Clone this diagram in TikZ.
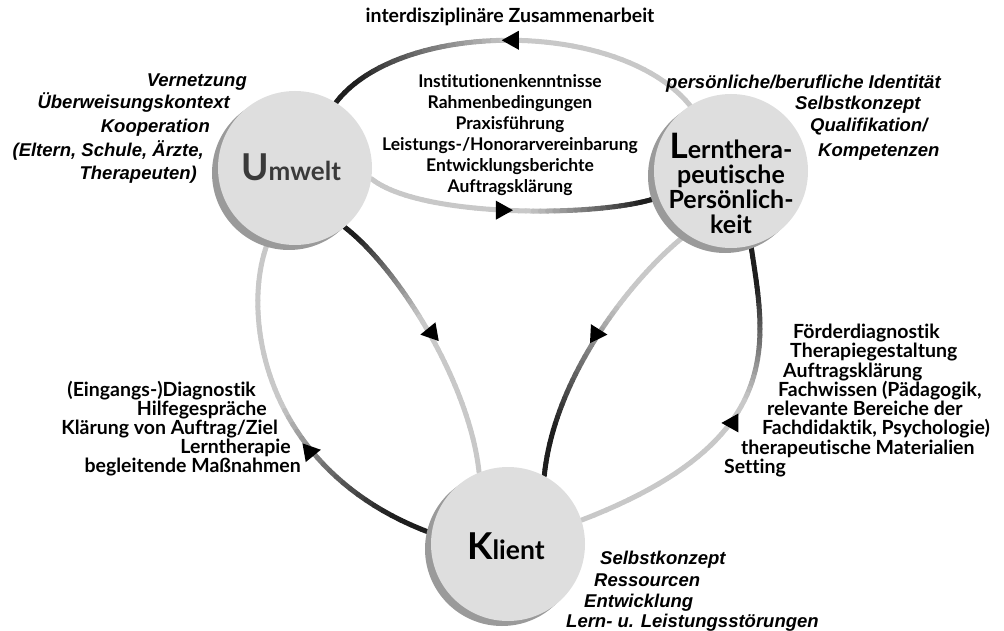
\documentclass[tikz,border=0pt]{standalone}
\usepackage{fontspec}
\setmainfont{Lato}[Ligatures=NoCommon]
\newfontfamily\itfont{Liberation Sans}
\usetikzlibrary{shadows,backgrounds,calc}

\definecolor{arcdark}{HTML}{1E1E1E}
\definecolor{arclight}{HTML}{C8C8C8}
\definecolor{circfill}{HTML}{DEDEDE}
\definecolor{circshadow}{HTML}{9A9A9A}
\definecolor{umtext}{HTML}{3A3A3A}

\tikzset{
  bubble/.style={circle, minimum size=154pt, inner sep=0pt, fill=circfill,
    drop shadow={shadow xshift=-6pt, shadow yshift=-5pt, fill=circshadow, opacity=1}},
  arcseg/.style={line width=5pt, line cap=round},
  up/.style={font=\bfseries\fontsize{19.5}{20}\selectfont, inner sep=0pt},
  itl/.style={font=\itfont\bfseries\itshape\fontsize{18.5}{22}\selectfont, inner sep=0pt},
  bubbletext/.style={inner sep=0pt, align=center},
}

% gradient connector: #1 name, #2 path, #3 dark at start (1) or end (0), #4 fade start, #5 fade end
\newcommand\gradarc[5]{%
  \path #2 \foreach \gk [evaluate=\gk as \gp using \gk/48] in {0,...,48} { coordinate[pos=\gp] (#1-\gk) };
  \foreach \gk in {0,...,47}{%
    \pgfmathtruncatemacro\gn{\gk+1}%
    \pgfmathsetmacro\gs{ifthenelse(#3==1,(\gk+0.5)/48,1-(\gk+0.5)/48)}%
    \pgfmathtruncatemacro\gc{max(0,min(100,100*(#5-\gs)/(#5-#4)))}%
    \draw[arcseg, color=arcdark!\gc!arclight] (#1-\gk) -- (#1-\gn);
  }%
}
% arrowhead centred on a point of a connector
\newcommand\arrowat[2]{\fill[black, shift={(#1)}, rotate=#2] (9,0) -- (-8,-9.5) -- (-8,9.5) -- cycle;}

\begin{document}
\begin{tikzpicture}[x=1pt,y=-1pt]
\useasboundingbox (0,0) rectangle (1004,631);

% circles
\node[bubble] (U) at (295,168) {};
\node[bubble] (L) at (731,171) {};
\node[bubble] (K) at (508,544) {};

\node[bubbletext, text=umtext, font=\bfseries\fontsize{26}{26}\selectfont] (Ut) at (291,167)
  {{\fontsize{37}{37}\selectfont U}mwelt};
\node[bubbletext, font=\bfseries\fontsize{25}{25}\selectfont] (Lt) at (731,183)
  {{\fontsize{35}{35}\selectfont L}ernthera-\\peutische\\Persönlich-\\keit};
\node[bubbletext, font=\bfseries\fontsize{26.5}{26}\selectfont] (Kt) at (506,546)
  {{\fontsize{37}{37}\selectfont K}lient};

% connectors
\begin{scope}[on background layer]
\gradarc{a1}{(U.58) .. controls (400,19) and (620,19) .. (L.122)}{1}{0.10}{0.50}
\gradarc{a2}{(U.-8) .. controls (420,218) and (600,218) .. (L.200)}{0}{0.08}{0.45}
\gradarc{a3}{(U.-50) .. controls (400,270) and (470,385) .. (K.112)}{1}{0.08}{0.45}
\gradarc{a4}{(U.250) .. controls (240,310) and (260,470) .. (K.172)}{0}{0.08}{0.45}
\gradarc{a5}{(L.-75) .. controls (765,340) and (790,440) .. (K.18)}{1}{0.15}{0.55}
\gradarc{a6}{(L.235) .. controls (640,270) and (555,370) .. (K.62)}{0}{0.15}{0.60}
\end{scope}

% arrowheads
\arrowat{a1-24}{180}
\arrowat{a2-23}{0}
\arrowat{a3-24}{190}
\arrowat{a4-33}{10}
\arrowat{a5-30}{180}
\arrowat{a6-25}{-3}

% texts
\node[up, anchor=base] (title) at (510,23) {interdisziplinäre Zusammenarbeit};
\node[up, align=center, anchor=north, font=\bfseries\fontsize{17.5}{21}\selectfont] (mid) at (510,74)
  {Institutionenkenntnisse\\Rahmenbedingungen\\Praxisführung\\Leistungs-/Honorarvereinbarung\\Entwicklungsberichte\\Auftragsklärung};

\node[itl, anchor=base east] (u1) at (247,87) {Vernetzung};
\node[itl, anchor=base east] (u2) at (230,109) {Überweisungskontext};
\node[itl, anchor=base east] (u3) at (210,133) {Kooperation};
\node[itl, anchor=base east] (u4) at (204,157) {(Eltern, Schule, Ärzte,};
\node[itl, anchor=base east] (u5) at (197,180) {Therapeuten)};

\node[itl, anchor=base west] (p1) at (666,89) {persönliche/berufliche Identität};
\node[itl, anchor=base west] (p2) at (795,110) {Selbstkonzept};
\node[itl, anchor=base west] (p3) at (810,132) {Qualifikation/};
\node[itl, anchor=base west] (p4) at (818,157) {Kompetenzen};

\node[up, anchor=base east] (l1) at (256,396) {(Eingangs-)Diagnostik};
\node[up, anchor=base east] (l2) at (267,415) {Hilfegespräche};
\node[up, anchor=base east] (l3) at (278,434) {Klärung von Auftrag/Ziel};
\node[up, anchor=base east] (l4) at (291,453) {Lerntherapie};
\node[up, anchor=base east] (l5) at (301,472) {begleitende Maßnahmen};

\node[up, anchor=base west] (r1) at (793,338) {Förderdiagnostik};
\node[up, anchor=base west] (r2) at (790,357) {Therapiegestaltung};
\node[up, anchor=base west] (r3) at (783,377) {Auftragsklärung};
\node[up, anchor=base west] (r4) at (778,396) {Fachwissen (Pädagogik,};
\node[up, anchor=base west] (r5) at (767,415) {relevante Bereiche der};
\node[up, anchor=base west] (r6) at (762,434) {Fachdidaktik, Psychologie)};
\node[up, anchor=base west] (r7) at (741,454) {therapeutische Materialien};
\node[up, anchor=base west] (r8) at (724,473) {Setting};

\node[itl, anchor=base west] (k1) at (600,564) {Selbstkonzept};
\node[itl, anchor=base west] (k2) at (594,586) {Ressourcen};
\node[itl, anchor=base west] (k3) at (584,607) {Entwicklung};
\node[itl, anchor=base west] (k4) at (566,627) {Lern- u. Leistungsstörungen};
\end{tikzpicture}
\end{document}
